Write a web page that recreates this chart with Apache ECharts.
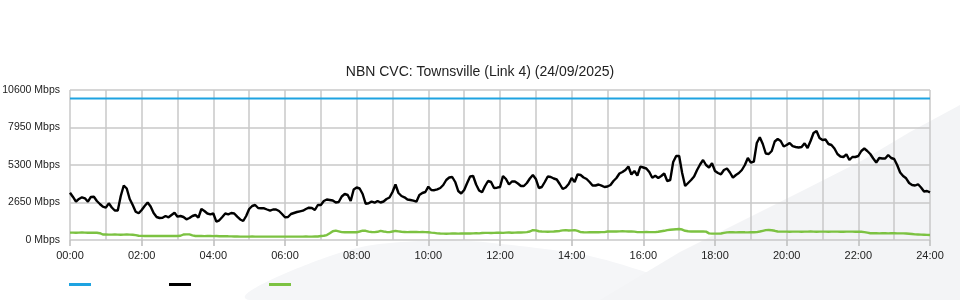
<!DOCTYPE html>
<html>
<head>
<meta charset="utf-8">
<script src="https://cdn.jsdelivr.net/npm/echarts@6/dist/echarts.min.js"></script>
<style>
html,body{margin:0;padding:0;background:#fff;}
#chart{width:960px;height:300px;}
</style>
</head>
<body>
<div id="chart"></div>
<script>
// ---- data ----
const titleText = 'NBN CVC: Townsville (Link 4) (24/09/2025)';
const yTicks = [0, 2650, 5300, 7950, 10600];
const capacityMbps = 10000;
// 5-minute samples 00:00 .. 24:00
const download = [
3343,3040,2707,2900,3017,2947,2707,3040,3060,2756,
2544,2353,2283,2593,2297,2085,2085,3109,3851,3640,
2898,2473,2000,1887,2120,2403,2650,2367,1908,1625,
1554,1576,1696,1604,1767,1930,1647,1696,1625,1463,
1554,1696,1767,1576,2191,2049,1873,1816,1873,1293,
1392,1625,1873,1816,1908,1873,1647,1449,1343,1696,
2191,2403,2473,2261,2240,2240,2155,2071,2155,2155,
2049,1837,1604,1625,1837,1908,1979,2028,2071,2191,
2283,2261,2120,2473,2473,2756,2862,2827,2791,2650,
2685,3074,3251,3180,2756,3569,3710,3640,3251,2565,
2593,2721,2636,2756,2650,2721,2898,3003,3392,3922,
3321,3109,3017,2862,2827,2777,2707,3180,3321,3392,
3767,3533,3519,3583,3675,3887,4240,4417,4452,4099,
3463,3286,3533,4028,4488,4523,3922,3498,3371,3816,
4169,4099,3675,3696,3745,4523,4311,3922,4134,4134,
3993,3816,3816,4028,4346,4593,4311,3675,3745,4099,
4488,4452,4346,4276,3957,3604,3710,3957,4381,4099,
4643,4593,4417,4311,4099,3851,3851,3922,3837,3745,
3781,3887,4169,4381,4700,4805,4947,5194,4629,4876,
4558,5180,5124,5053,4805,4403,4537,4381,4523,4700,
4169,4240,5512,5936,5936,4735,3816,4028,4240,4488,
4947,5336,5654,5300,5124,5420,4876,4735,4643,4947,
5053,4770,4403,4594,4735,4947,5300,5795,5463,5534,
6854,7258,6784,6113,6077,6290,6961,7138,6996,6608,
6714,6855,6629,6572,6537,6572,6834,6502,6996,7562,
7703,7209,7067,7102,6784,6714,6466,6077,5901,5866,
6056,5654,5866,5866,5936,6290,6466,6290,6077,5760,
5477,5795,5760,5760,6007,5795,5724,5300,4770,4523,
4360,4028,3887,3851,3937,3710,3428,3463,3371
];
const upload = [
520,520,515,520,525,520,510,515,520,510,
480,390,385,380,380,385,380,375,380,385,
380,375,340,300,290,285,280,285,280,280,
285,280,280,285,280,280,285,300,390,400,
395,330,285,280,280,275,280,280,275,280,
270,265,270,260,255,250,245,240,240,240,
240,245,240,240,240,240,235,240,240,240,
240,240,235,240,240,240,240,240,240,245,
240,240,245,250,280,300,350,480,620,660,
610,560,545,550,545,550,545,600,660,650,
590,570,560,580,640,600,570,560,600,640,
610,580,570,560,565,570,565,560,565,560,
550,520,500,470,455,450,445,450,455,460,
450,455,460,470,460,465,480,470,490,500,
505,495,500,515,510,500,520,525,515,520,
530,525,540,560,600,700,680,620,600,590,
580,590,600,620,640,680,700,670,680,700,
640,560,545,540,545,544,545,550,555,560,
600,610,600,605,610,615,612,600,598,590,
560,555,560,565,560,555,560,580,620,650,
700,720,740,760,777,740,650,620,600,610,
600,605,600,590,470,450,447,450,460,500,
540,545,544,540,545,550,544,540,545,544,
560,600,650,700,707,690,650,600,590,595,
590,585,590,595,590,585,590,595,600,590,
585,590,595,590,585,590,595,590,588,585,
590,595,590,585,590,580,560,520,480,475,
473,470,475,473,470,475,473,470,468,465,
460,440,420,400,390,380,370,360,353
];
const xLabelEvery = 24; // every 2 hours
const gridEvery = 12;   // hourly grid

// categories 00:00 .. 24:00 in 5 min steps
const times = [];
for (let i = 0; i < download.length; i++) {
  const m = i * 5;
  const hh = String(Math.floor(m / 60)).padStart(2, '0');
  const mm = String(m % 60).padStart(2, '0');
  times.push(hh + ':' + mm);
}
const capacity = times.map(() => capacityMbps);

const FONT = '"Liberation Sans", Arial, sans-serif';
const chart = echarts.init(document.getElementById('chart'), null, {renderer: 'canvas'});
const legendBase = {
  top: 283, padding: 0, icon: 'rect', itemWidth: 22, itemHeight: 3,
  formatter: () => '', selectedMode: false,
  textStyle: {fontSize: 1}
};
chart.setOption({
  animation: false,
  backgroundColor: '#ffffff',
  textStyle: {fontFamily: FONT},
  title: {
    text: titleText, left: 'center', top: 60,
    textStyle: {fontSize: 14, fontWeight: 'normal', color: '#222', fontFamily: FONT}
  },
  graphic: [
    {type: 'polygon', z: -10, silent: true,
     shape: {smooth: 0.4, points: [[250, 300], [330, 256], [420, 241], [520, 246], [620, 264], [700, 300]]},
     style: {fill: '#f5f6f8'}},
    {type: 'polygon', z: -10, silent: true,
     shape: {points: [[600, 300], [680, 252], [740, 222], [800, 192], [863, 160], [910, 132], [960, 105], [960, 300]]},
     style: {fill: '#f3f4f6'}}
  ],
  legend: [
    Object.assign({left: 69, data: ['Capacity']}, legendBase),
    Object.assign({left: 169, data: ['Download']}, legendBase),
    Object.assign({left: 269, data: ['Upload']}, legendBase)
  ],
  grid: {left: 70, right: 30, top: 90, bottom: 60, outerBoundsMode: 'none', containLabel: false},
  xAxis: {
    type: 'category', data: times, boundaryGap: false,
    axisLine: {show: false},
    axisTick: {show: true, interval: xLabelEvery - 1, length: 6, lineStyle: {color: '#bdbdbd', width: 1.5}},
    axisLabel: {interval: xLabelEvery - 1, color: '#222', fontSize: 11, margin: 10, fontFamily: FONT},
    splitLine: {show: true, interval: gridEvery - 1, lineStyle: {color: '#c8c8c8', width: 1.5}}
  },
  yAxis: {
    type: 'value', min: yTicks[0], max: yTicks[yTicks.length - 1], interval: yTicks[1] - yTicks[0],
    axisLine: {show: false}, axisTick: {show: false},
    axisLabel: {formatter: v => v + ' Mbps', color: '#222', fontSize: 10.5, margin: 10, fontFamily: FONT},
    splitLine: {lineStyle: {color: '#c8c8c8', width: 1.5}}
  },
  series: [
    {name: 'Capacity', type: 'line', data: capacity, showSymbol: false,
     lineStyle: {color: '#1ea3e1', width: 2}, itemStyle: {color: '#1ea3e1'}},
    {name: 'Download', type: 'line', data: download, showSymbol: false,
     lineStyle: {color: '#000000', width: 2.4}, itemStyle: {color: '#000000'}},
    {name: 'Upload', type: 'line', data: upload, showSymbol: false,
     lineStyle: {color: '#7cc242', width: 2.4}, itemStyle: {color: '#7cc242'}}
  ]
});
</script>
</body>
</html>
